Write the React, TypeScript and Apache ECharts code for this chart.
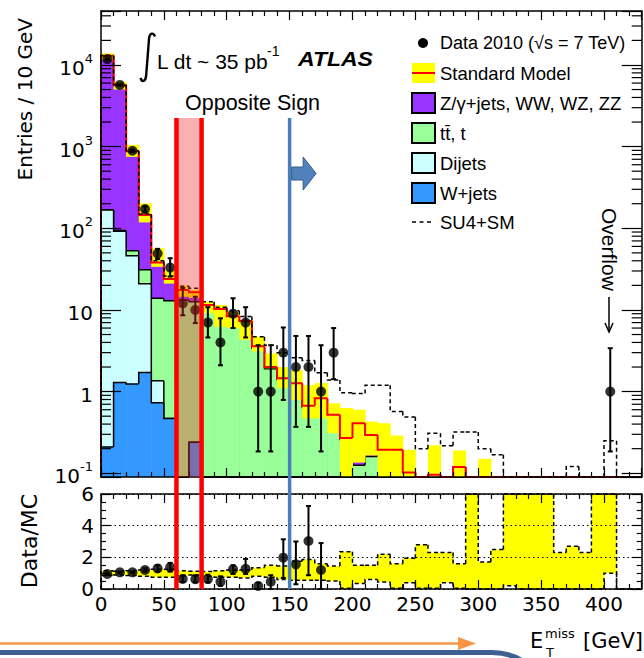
import React, { useEffect, useRef } from 'react';
import * as echarts from 'echarts';

// ---------------- data ----------------
const binLowEdges = [0, 10, 20, 30, 40, 50, 60, 70, 80, 90, 100, 110, 120, 130, 140, 150, 160, 170, 180, 190, 200, 210, 220, 230, 240, 250, 260, 270, 280, 290, 300, 310, 320, 330, 340, 350, 360, 370, 380, 390, 400, 410, 420];
const binWidth = 10;

// cumulative stack levels, Entries / 10 GeV
const smTotal = [13000, 5660, 875, 145, 38, 24, 17.5, 16.5, 11.5, 10.3, 8.4, 7.3, 3.6, 2.0, 1.46, 1.27, 0.67, 0.83, 0.52, 0.27, 0.41, 0.295, 0.194, 0.194, 0.102, 0, 0.096, 0, 0.119, 0, 0.05, 0, 0, 0, 0, 0, 0, 0, 0, 0, 0, 0, 0];
const cumTtbar = [168, 94, 53, 31, 13.9, 13.0, 13.2, 12.6, 10.8, 9.8, 8.0, 7.0, 3.4, 1.9, 1.4, 1.2, 0.64, 0.8, 0.5, 0.26, 0.125, 0.16, 0.19, 0.19, 0.1, 0, 0.096, 0, 0.119, 0, 0.05, 0, 0, 0, 0, 0, 0, 0, 0, 0, 0, 0, 0];
const cumDijets = [167, 92, 46, 21, 1.36, 0.47, 0, 0.24, 0, 0, 0, 0, 0, 0, 0, 0, 0, 0, 0, 0, 0, 0, 0, 0, 0, 0, 0, 0, 0, 0, 0, 0, 0, 0, 0, 0, 0, 0, 0, 0, 0, 0, 0];
const cumWjets = [0.21, 1.29, 1.24, 1.71, 0.73, 0.47, 0, 0.24, 0, 0, 0, 0, 0, 0, 0, 0, 0, 0, 0, 0, 0, 0, 0, 0, 0, 0, 0, 0, 0, 0, 0, 0, 0, 0, 0, 0, 0, 0, 0, 0, 0, 0, 0];
const smBandLow = [11500, 5000, 750, 118, 33.7, 21, 14.5, 14, 9.1, 6.2, 6.0, 4.3, 3.1, 1.93, 1.1, 0.79, 0.47, 0.47, 0.31, 0.05, 0.135, 0.165, 0.05, 0.05, 0.05, 0, 0.05, 0, 0.05, 0, 0.05, 0, 0, 0, 0, 0, 0, 0, 0, 0, 0, 0, 0];
const smBandHigh = [13900, 6200, 1050, 202, 57, 31, 20, 17.6, 12.6, 11.5, 9.5, 7.5, 4.7, 2.95, 2.0, 1.84, 1.2, 1.27, 0.72, 0.63, 0.6, 0.43, 0.41, 0.29, 0.194, 0, 0.22, 0, 0.19, 0, 0.15, 0, 0, 0, 0, 0, 0, 0, 0, 0, 0, 0, 0];
const su4PlusSM = [13100, 5750, 890, 150, 40, 26, 19.5, 18.5, 12.6, 10.8, 9.8, 8.3, 4.7, 3.7, 3.0, 2.6, 2.4, 1.7, 1.39, 0.97, 0.95, 1.2, 1.2, 0.57, 0.49, 0.2, 0.31, 0.217, 0.32, 0.32, 0.2, 0.168, 0, 0, 0, 0, 0, 0.121, 0, 0, 0.25, 0, 0];

const dataCenters = [5, 15, 25, 35, 45, 55, 65, 75, 85, 95, 105, 115, 125, 135, 145, 155, 165, 175, 185, 405];
const dataEntries = [11800, 5700, 890, 172, 49, 33, 12, 10, 7, 4, 9, 7, 1, 1, 3, 2, 2, 1, 3, 1];
const dataErrLow = [11650, 5600, 860, 159, 42, 25.6, 8.6, 6.9, 4.6, 2.1, 6.0, 4.6, 0.185, 0.185, 0.79, 0.37, 0.37, 0.185, 1.42, 0.185];
const dataErrHigh = [11950, 5800, 920, 185, 56, 43, 18.6, 14.5, 10.8, 7.9, 13.9, 10.8, 3.7, 3.7, 6.1, 4.8, 4.8, 3.7, 6.0, 3.4];

const ratioCenters = [5, 15, 25, 35, 45, 55, 65, 75, 85, 95, 105, 115, 125, 135, 145, 155, 165, 175];
const ratioValues = [0.95, 1.05, 1.05, 1.2, 1.3, 1.37, 0.63, 0.62, 0.63, 0.46, 1.24, 1.28, 0.19, 0.46, 1.98, 1.56, 3.03, 1.2];
const ratioErrLow = [0.9, 1.0, 1.0, 1.1, 1.1, 1.1, 0.45, 0.42, 0.4, 0.2, 0.95, 0.95, 0, 0, 0.7, 0.3, 0.87, 0];
const ratioErrHigh = [1.0, 1.1, 1.1, 1.3, 1.5, 1.65, 0.85, 0.85, 0.9, 0.8, 1.5, 1.9, 0.4, 0.87, 3.14, 3.0, 5.24, 2.9];
const ratioBandLow = [0.85, 0.88, 0.85, 0.8, 0.75, 0.75, 0.85, 0.88, 0.8, 0.75, 0.75, 0.7, 0.8, 0.75, 0.6, 0.55, 0.55, 0.55, 0.5, 0.05, 0.35, 0.6, 0.45, 0.05, 0.4, 0.05, 0.05, 0.4, 0.05, 0, 0, 0, 0.2, 0, 0, 0, 0, 0, 0, 0, 1.0, 0, 0];
const ratioBandHigh = [1.15, 1.12, 1.15, 1.2, 1.25, 1.25, 1.15, 1.12, 1.1, 1.15, 1.2, 1.2, 1.35, 1.5, 1.45, 1.75, 1.86, 1.6, 1.45, 2.36, 1.5, 1.5, 2.2, 1.6, 1.95, 2.8, 2.3, 2.3, 1.6, 7, 1.7, 2.5, 7, 7, 7, 7, 2.3, 2.7, 2.3, 7, 7, 0, 0];

const osWindowCuts = [60, 80];
const signalCut = [150];
const logDecades = [0.01, 0.1, 1, 10, 100, 1000, 10000];
const logMinorMult = [2, 3, 4, 5, 6, 7, 8, 9];
const xTickLabels = ['0', '50', '100', '150', '200', '250', '300', '350', '400'];
const ratioTickLabels = ['0', '2', '4', '6'];

// ---------------- layout / style ----------------
const G0 = { left: 101, top: 11, width: 540.7, height: 466 };
const G1 = { left: 101, top: 494, width: 540.7, height: 95 };
const overlayTop = 118;
const overlayBottom = G1.top + G1.height;
const ROOT_FONT = "'DejaVu Sans', sans-serif";
const SANS = "'Liberation Sans', Arial, Helvetica, sans-serif";
const C = {
  purple: '#9933ff', green: '#99ff99', cyan: '#ccffff', blue: '#3399ff',
  yellow: '#ffff00', red: '#ff0000', pink: 'rgba(240,40,40,0.37)', steel: '#4a7ebb',
};

const integralPath = 'M15.5,4.5 C14,0.5 10.5,0.5 9.6,6 L6.6,44 C5.8,50 2.5,50.5 1,46';
try {
  echarts.graphic.registerShape('integralSign', echarts.graphic.extendPath(integralPath, {}));
} catch (e) { /* already registered */ }

// ---------------- helpers ----------------
const yClamp = (api: any, cs: any, x: number, v: number) => {
  const bottom = cs.y + cs.height;
  if (!(v > 0)) return bottom;
  const y = api.coord([x, v])[1];
  if (!isFinite(y)) return bottom;
  return Math.max(cs.y, Math.min(bottom, y));
};

const histItems = (vals: number[]) =>
  vals.map((v, i) => [binLowEdges[i], binLowEdges[i] + binWidth, v, i > 0 ? vals[i - 1] : 0, i < vals.length - 1 ? vals[i + 1] : 0, i === vals.length - 1 ? 1 : 0]);

const bandItems = (lo: number[], hi: number[]) => lo.map((l, i) => [binLowEdges[i], binLowEdges[i] + binWidth, l, hi[i]]);

const histRender = (st: any) => (params: any, api: any) => {
  const cs = params.coordSys;
  const bottom = cs.y + cs.height;
  const x0 = api.value(0), x1 = api.value(1), v = api.value(2), pv = api.value(3), nv = api.value(4), last = api.value(5);
  const px0 = api.coord([x0, 1])[0], px1 = api.coord([x1, 1])[0];
  const yv = yClamp(api, cs, x0, v);
  const children: any[] = [];
  if (st.fill) children.push({ type: 'rect', shape: { x: px0, y: yv, width: px1 - px0 + 0.5, height: Math.max(0, bottom - yv) }, style: { fill: st.fill } });
  if (st.stroke) {
    const pts: number[][] = [[px0, yClamp(api, cs, x0, pv)], [px0, yv], [px1, yv]];
    if (last) pts.push([px1, yClamp(api, cs, x1, nv)]);
    children.push({ type: 'polyline', shape: { points: pts }, style: { stroke: st.stroke, lineWidth: st.lineWidth, fill: null, lineDash: st.dash } });
  }
  return { type: 'group', children };
};

const bandRender = (fill: string) => (params: any, api: any) => {
  const cs = params.coordSys;
  const x0 = api.value(0), x1 = api.value(1), lo = api.value(2), hi = api.value(3);
  if (!(hi > 0)) return { type: 'group', children: [] };
  const px0 = api.coord([x0, 1])[0], px1 = api.coord([x1, 1])[0];
  const yHi = yClamp(api, cs, x0, hi), yLo = yClamp(api, cs, x0, lo);
  return { type: 'rect', shape: { x: px0, y: yHi, width: px1 - px0 + 0.5, height: Math.max(0, yLo - yHi) }, style: { fill } };
};

const errRender = (params: any, api: any) => {
  const cs = params.coordSys;
  const x = api.value(0), lo = api.value(1), hi = api.value(2);
  const px = api.coord([x, 1])[0];
  const y1 = yClamp(api, cs, x, lo), y2 = yClamp(api, cs, x, hi);
  const s = { stroke: '#000', lineWidth: 2 };
  return {
    type: 'group', children: [
      { type: 'line', shape: { x1: px, y1, x2: px, y2 }, style: s },
      { type: 'line', shape: { x1: px - 2.5, y1: y2, x2: px + 2.5, y2 }, style: s },
      { type: 'line', shape: { x1: px - 2.5, y1, x2: px + 2.5, y2: y1 }, style: s },
    ],
  };
};

const histSeries = (name: string, vals: number[], st: any, xi = 0, yi = 0) => ({
  type: 'custom', name, xAxisIndex: xi, yAxisIndex: yi, z: 2, silent: true,
  data: histItems(vals), encode: { x: [0, 1], y: 2 }, renderItem: histRender(st),
});

// ---------------- axes ----------------
const axisLine = { show: true, onZero: false, lineStyle: { color: '#000', width: 1.5 } };
const tickStyle = { color: '#000', width: 1.2 };

const xAxisDef = (gridIndex: number, position: string, labels: boolean) => ({
  type: 'value', gridIndex, position, min: 0, max: 430, interval: 50, z: 3,
  axisLine,
  axisTick: { show: true, inside: true, length: 9, lineStyle: tickStyle },
  minorTick: { show: true, splitNumber: 5, length: 5, lineStyle: tickStyle },
  splitLine: { show: false }, minorSplitLine: { show: false },
  axisLabel: labels
    ? { show: true, margin: 5, color: '#000', fontFamily: ROOT_FONT, fontSize: 20, formatter: (v: number) => (xTickLabels.includes(String(v)) ? String(v) : '') }
    : { show: false },
});

const logLabel = (v: number) => {
  const e = Math.log10(v);
  const r = Math.round(e);
  if (Math.abs(e - r) > 1e-6) return '';
  if (r === 0) return '{n|1}';
  if (r === 1) return '{n|10}';
  return '{n|10}{s|' + (r < 0 ? '-' : '') + Math.abs(r) + '}';
};

const logAxisDef = (position: string, labels: boolean) => ({
  type: 'log', logBase: 10, gridIndex: 0, position, min: 0.09, max: 45800, z: 3,
  axisLine,
  axisTick: { show: true, inside: true, length: 20, lineStyle: tickStyle },
  minorTick: { show: false }, splitLine: { show: false },
  axisLabel: labels
    ? {
      show: true, margin: 8, color: '#000', fontFamily: ROOT_FONT, fontSize: 20, formatter: logLabel,
      rich: {
        n: { fontFamily: ROOT_FONT, fontSize: 20, color: '#000', lineHeight: 26, verticalAlign: 'bottom' },
        s: { fontFamily: ROOT_FONT, fontSize: 13, color: '#000', lineHeight: 14, verticalAlign: 'top' },
      },
    }
    : { show: false },
});

const ratioAxisDef = (position: string, labels: boolean) => ({
  type: 'value', gridIndex: 1, position, min: 0, max: 6, interval: 2, z: 3,
  axisLine,
  axisTick: { show: true, inside: true, length: 10, lineStyle: tickStyle },
  minorTick: { show: true, splitNumber: 4, length: 5, lineStyle: tickStyle },
  splitLine: labels ? { show: true, lineStyle: { color: '#000', width: 1, type: [1.5, 3] } } : { show: false },
  axisLabel: labels
    ? { show: true, margin: 7, color: '#000', fontFamily: ROOT_FONT, fontSize: 20, formatter: (v: number) => (ratioTickLabels.includes(String(v)) ? String(v) : '') }
    : { show: false },
});

// ---------------- graphic (texts, legend, decorations) ----------------
const T = (text: string, x: number, y: number, size: number, extra: any = {}, el: any = {}) => ({
  type: 'text', x, y, z: 100, silent: true, ...el,
  style: { text, fontFamily: SANS, fontSize: size, fill: '#000', align: 'left', verticalAlign: 'middle', ...extra },
});

const legendRows = [43, 73, 103, 133, 163, 193, 222];
const legendBox = (y: number, fill: string) => ({ type: 'rect', z: 100, shape: { x: 412, y: y - 10, width: 23, height: 20 }, style: { fill, stroke: '#000', lineWidth: 2 } });

const graphicEls: any[] = [
  // axis titles
  T('Entries / 10 GeV', 25, 18, 20, { fontFamily: ROOT_FONT, align: 'right' }, { rotation: Math.PI / 2 }),
  T('Data/MC', 29, 541, 22, { fontFamily: ROOT_FONT, align: 'center' }, { rotation: Math.PI / 2 }),
  T('E', 530, 641, 21, { fontFamily: ROOT_FONT }),
  T('miss', 545, 633, 13, { fontFamily: ROOT_FONT }),
  T('T', 546, 652, 13, { fontFamily: ROOT_FONT }),
  T('[GeV]', 583, 641, 21, { fontFamily: ROOT_FONT }),
  // luminosity & ATLAS
  { type: 'integralSign', x: 139.5, y: 32, z: 100, style: { stroke: '#000', fill: null, lineWidth: 2.4 } },
  T('L dt ~ 35 pb', 157, 61, 21),
  T('-1', 267, 51, 14),
  T('ATLAS', 298, 60, 19.5, { fontWeight: 'bold', fontStyle: 'italic' }, { scaleX: 1.18 }),
  T('Opposite Sign', 185, 102.5, 21.5),
  // overflow label
  T('Overflow', 609, 208, 21, {}, { rotation: -Math.PI / 2 }),
  { type: 'line', z: 100, shape: { x1: 609, y1: 297, x2: 609, y2: 332 }, style: { stroke: '#000', lineWidth: 1.5 } },
  { type: 'polyline', z: 100, shape: { points: [[605, 323], [609, 332], [613, 323]] }, style: { stroke: '#000', lineWidth: 1.5, fill: null } },
  // legend
  { type: 'circle', z: 100, shape: { cx: 423, cy: legendRows[0], r: 5 }, style: { fill: '#000' } },
  T('Data 2010 (\u221As = 7 TeV)', 440, legendRows[0], 18),
  { type: 'rect', z: 100, shape: { x: 412, y: legendRows[1] - 10, width: 23, height: 20 }, style: { fill: C.yellow } },
  { type: 'line', z: 100, shape: { x1: 412, y1: legendRows[1], x2: 435, y2: legendRows[1] }, style: { stroke: C.red, lineWidth: 2 } },
  T('Standard Model', 440, legendRows[1], 18.5),
  legendBox(legendRows[2], C.purple),
  T('Z/\u03B3+jets, WW, WZ, ZZ', 440, legendRows[2], 18.5),
  legendBox(legendRows[3], C.green),
  T('tt\u0304, t', 440, legendRows[3], 18.5),
  legendBox(legendRows[4], C.cyan),
  T('Dijets', 440, legendRows[4], 18.5),
  legendBox(legendRows[5], C.blue),
  T('W+jets', 440, legendRows[5], 18.5),
  { type: 'line', z: 100, shape: { x1: 412, y1: legendRows[6], x2: 431, y2: legendRows[6] }, style: { stroke: '#000', lineWidth: 1.5, lineDash: [4, 3.5] } },
  T('SU4+SM', 440, legendRows[6], 18.5),
  // slide decorations at the bottom
  { type: 'line', z: 100, shape: { x1: 0, y1: 643.5, x2: 460, y2: 643.5 }, style: { stroke: '#f79646', lineWidth: 2.5 } },
  { type: 'polygon', z: 100, shape: { points: [[458, 637], [476, 643.5], [458, 650]] }, style: { fill: '#f79646' } },
  { type: 'line', z: 100, shape: { x1: 0, y1: 652.5, x2: 493, y2: 652.5 }, style: { stroke: '#3c6091', lineWidth: 5 } },
  { type: 'bezierCurve', z: 100, shape: { x1: 492, y1: 652.5, cpx1: 510, cpy1: 652.5, x2: 524, y2: 662 }, style: { stroke: '#3c6091', lineWidth: 5, fill: null } },
];

// ---------------- option ----------------
function buildOption() {
  const minorLogTicks = logDecades.flatMap((d) => logMinorMult.map((m) => [0, d * m])).filter((p) => p[1] > 0.0901 && p[1] < 45800);

  const series: any[] = [
    histSeries('Z/γ+jets, WW, WZ, ZZ', smTotal, { fill: C.purple, stroke: '#000', lineWidth: 1.5 }),
    histSeries('tt̄, t', cumTtbar, { fill: C.green, stroke: '#000', lineWidth: 1.5 }),
    histSeries('Dijets', cumDijets, { fill: C.cyan, stroke: '#000', lineWidth: 1.5 }),
    histSeries('W+jets', cumWjets, { fill: C.blue, stroke: '#000', lineWidth: 1.5 }),
    {
      type: 'custom', name: 'SM uncertainty', xAxisIndex: 0, yAxisIndex: 0, z: 2, silent: true,
      data: bandItems(smBandLow, smBandHigh), encode: { x: [0, 1], y: [2, 3] }, renderItem: bandRender(C.yellow),
    },
    histSeries('Standard Model', smTotal, { stroke: C.red, lineWidth: 2 }),
    histSeries('SU4+SM', su4PlusSM, { stroke: '#000', lineWidth: 1.5, dash: [4, 3] }),
    {
      type: 'custom', name: 'Data errors', xAxisIndex: 0, yAxisIndex: 0, z: 2, silent: true,
      data: dataCenters.map((x, i) => [x, dataErrLow[i], dataErrHigh[i]]), encode: { x: 0, y: [1, 2] }, renderItem: errRender,
    },
    {
      type: 'scatter', name: 'Data 2010', xAxisIndex: 0, yAxisIndex: 0, z: 2, silent: true,
      symbol: 'circle', symbolSize: 10, itemStyle: { color: '#000' },
      data: dataCenters.map((x, i) => [x, dataEntries[i]]),
    },
    {
      type: 'custom', name: 'log minor ticks', xAxisIndex: 0, yAxisIndex: 0, z: 3, silent: true,
      data: minorLogTicks, encode: { x: 0, y: 1 },
      renderItem: (params: any, api: any) => {
        const cs = params.coordSys;
        const y = api.coord([0, api.value(1)])[1];
        const s = { stroke: '#000', lineWidth: 1.2 };
        return {
          type: 'group', children: [
            { type: 'line', shape: { x1: cs.x, y1: y, x2: cs.x + 10, y2: y }, style: s },
            { type: 'line', shape: { x1: cs.x + cs.width - 10, y1: y, x2: cs.x + cs.width, y2: y }, style: s },
          ],
        };
      },
    },
    // ratio panel
    {
      type: 'custom', name: 'ratio band', xAxisIndex: 2, yAxisIndex: 2, z: 2, silent: true,
      data: bandItems(ratioBandLow, ratioBandHigh), encode: { x: [0, 1], y: [2, 3] }, renderItem: bandRender(C.yellow),
    },
    histSeries('ratio band high', ratioBandHigh, { stroke: '#000', lineWidth: 1.5, dash: [4, 3] }, 2, 2),
    histSeries('ratio band low', ratioBandLow, { stroke: '#000', lineWidth: 1.5, dash: [4, 3] }, 2, 2),
    {
      type: 'custom', name: 'ratio errors', xAxisIndex: 2, yAxisIndex: 2, z: 2, silent: true,
      data: ratioCenters.map((x, i) => [x, ratioErrLow[i], ratioErrHigh[i]]), encode: { x: 0, y: [1, 2] }, renderItem: errRender,
    },
    {
      type: 'scatter', name: 'Data/MC', xAxisIndex: 2, yAxisIndex: 2, z: 2, silent: true,
      symbol: 'circle', symbolSize: 10, itemStyle: { color: '#000' },
      data: ratioCenters.map((x, i) => [x, ratioValues[i]]),
    },
    // overlays: opposite-sign window and signal cut
    {
      type: 'custom', name: 'OS window', xAxisIndex: 0, yAxisIndex: 0, z: 4, silent: true,
      data: [[osWindowCuts[0], osWindowCuts[1], 1]], encode: { x: [0, 1], y: 2 },
      renderItem: (params: any, api: any) => {
        const cs = params.coordSys;
        const a = api.coord([api.value(0), 1])[0], b = api.coord([api.value(1), 1])[0];
        return { type: 'rect', shape: { x: a, y: overlayTop, width: b - a, height: cs.y + cs.height - overlayTop }, style: { fill: C.pink } };
      },
    },
    {
      type: 'custom', name: 'OS cuts', xAxisIndex: 0, yAxisIndex: 0, z: 4, silent: true,
      data: osWindowCuts.map((v) => [v, 1]), encode: { x: 0, y: 1 },
      renderItem: (params: any, api: any) => {
        const px = api.coord([api.value(0), 1])[0];
        return { type: 'line', shape: { x1: px, y1: overlayTop, x2: px, y2: overlayBottom }, style: { stroke: C.red, lineWidth: 4.5 } };
      },
    },
    {
      type: 'custom', name: 'signal cut', xAxisIndex: 0, yAxisIndex: 0, z: 4, silent: true,
      data: signalCut.map((v) => [v, 1]), encode: { x: 0, y: 1 },
      renderItem: (params: any, api: any) => {
        const px = api.coord([api.value(0), 1])[0];
        return {
          type: 'group', children: [
            { type: 'line', shape: { x1: px, y1: overlayTop, x2: px, y2: overlayBottom }, style: { stroke: C.steel, lineWidth: 3.5 } },
            {
              type: 'polygon',
              shape: { points: [[px + 2, 167], [px + 13.5, 167], [px + 13.5, 157], [px + 26.5, 173.5], [px + 13.5, 190], [px + 13.5, 180], [px + 2, 180]] },
              style: { fill: '#4f81bd', stroke: '#385d8a', lineWidth: 1 },
            },
          ],
        };
      },
    },
  ];

  return {
    animation: false,
    backgroundColor: '#ffffff',
    textStyle: { fontFamily: SANS },
    grid: [
      { left: G0.left, top: G0.top, width: G0.width, height: G0.height, containLabel: false, outerBoundsMode: 'none', show: false },
      { left: G1.left, top: G1.top, width: G1.width, height: G1.height, containLabel: false, outerBoundsMode: 'none', show: false },
    ],
    xAxis: [xAxisDef(0, 'bottom', false), xAxisDef(0, 'top', false), xAxisDef(1, 'bottom', true), xAxisDef(1, 'top', false)],
    yAxis: [logAxisDef('left', true), logAxisDef('right', false), ratioAxisDef('left', true), ratioAxisDef('right', false)],
    series,
    graphic: graphicEls,
  };
}

export default function App() {
  const ref = useRef<HTMLDivElement>(null);
  useEffect(() => {
    if (!ref.current) return;
    const chart = echarts.init(ref.current, undefined, { renderer: 'svg' });
    chart.setOption(buildOption() as any);
    return () => chart.dispose();
  }, []);
  return <div ref={ref} style={{ position: 'fixed', left: 0, top: 0, width: 644, height: 658, background: '#fff' }} />;
}
